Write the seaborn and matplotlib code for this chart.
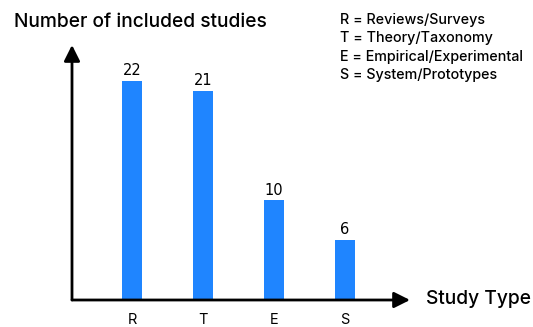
import matplotlib
matplotlib.use("Agg")
import matplotlib.pyplot as plt
import seaborn as sns
import pandas as pd

categories = ["R", "T", "E", "S"]
counts = [22, 21, 10, 6]
legend_lines = ["R = Reviews/Surveys", "T = Theory/Taxonomy",
                "E = Empirical/Experimental", "S = System/Prototypes"]

sns.set_theme(style="white")
plt.rcParams['font.family'] = ['Inter', 'DejaVu Sans']
plt.rcParams['text.color'] = 'black'
plt.rcParams['xtick.color'] = 'black'

df = pd.DataFrame({"type": categories, "count": counts})

fig = plt.figure(figsize=(5.33, 3.27), dpi=100)
ax = fig.add_axes([72/533, 27/327, 338/533, 255/327])
sns.barplot(data=df, x="type", y="count", color="#1f85ff", width=0.28,
            saturation=1, ax=ax, edgecolor="none")
ax.set_xlim(-0.845, 3.915)
ax.set_ylim(0, 25.6)
for s in ax.spines.values():
    s.set_visible(False)
ax.set_yticks([])
ax.set_xlabel("")
ax.set_ylabel("")
ax.tick_params(axis="x", length=0, pad=9, labelsize=10.5, labelcolor="black")
for c in ax.containers:
    ax.bar_label(c, padding=2, fontsize=10.5, family="DejaVu Sans", color="black")

arrow = dict(arrowstyle="-|>,head_length=0.8,head_width=0.4", color="black",
             lw=2, shrinkA=0, shrinkB=0)
ax.annotate("", xy=(1.0, 0), xytext=(0, 0), xycoords="axes fraction",
            arrowprops=arrow, annotation_clip=False)
ax.annotate("", xy=(0, 1.0), xytext=(0, 0), xycoords="axes fraction",
            arrowprops=arrow, annotation_clip=False)

fig.text(14/533, 1 - 22/327, "Number of included studies", fontsize=13.8,
         fontweight="medium", va="center", ha="left")
fig.text(426/533, 1 - 299/327, "Study Type", fontsize=13.8, fontweight="medium",
         va="center", ha="left")
for i, line in enumerate(legend_lines):
    fig.text(340/533, 1 - (20 + i*18.3)/327, line, fontsize=10.3,
             fontweight="medium", va="center", ha="left")

fig.savefig("out.png", dpi=100)
